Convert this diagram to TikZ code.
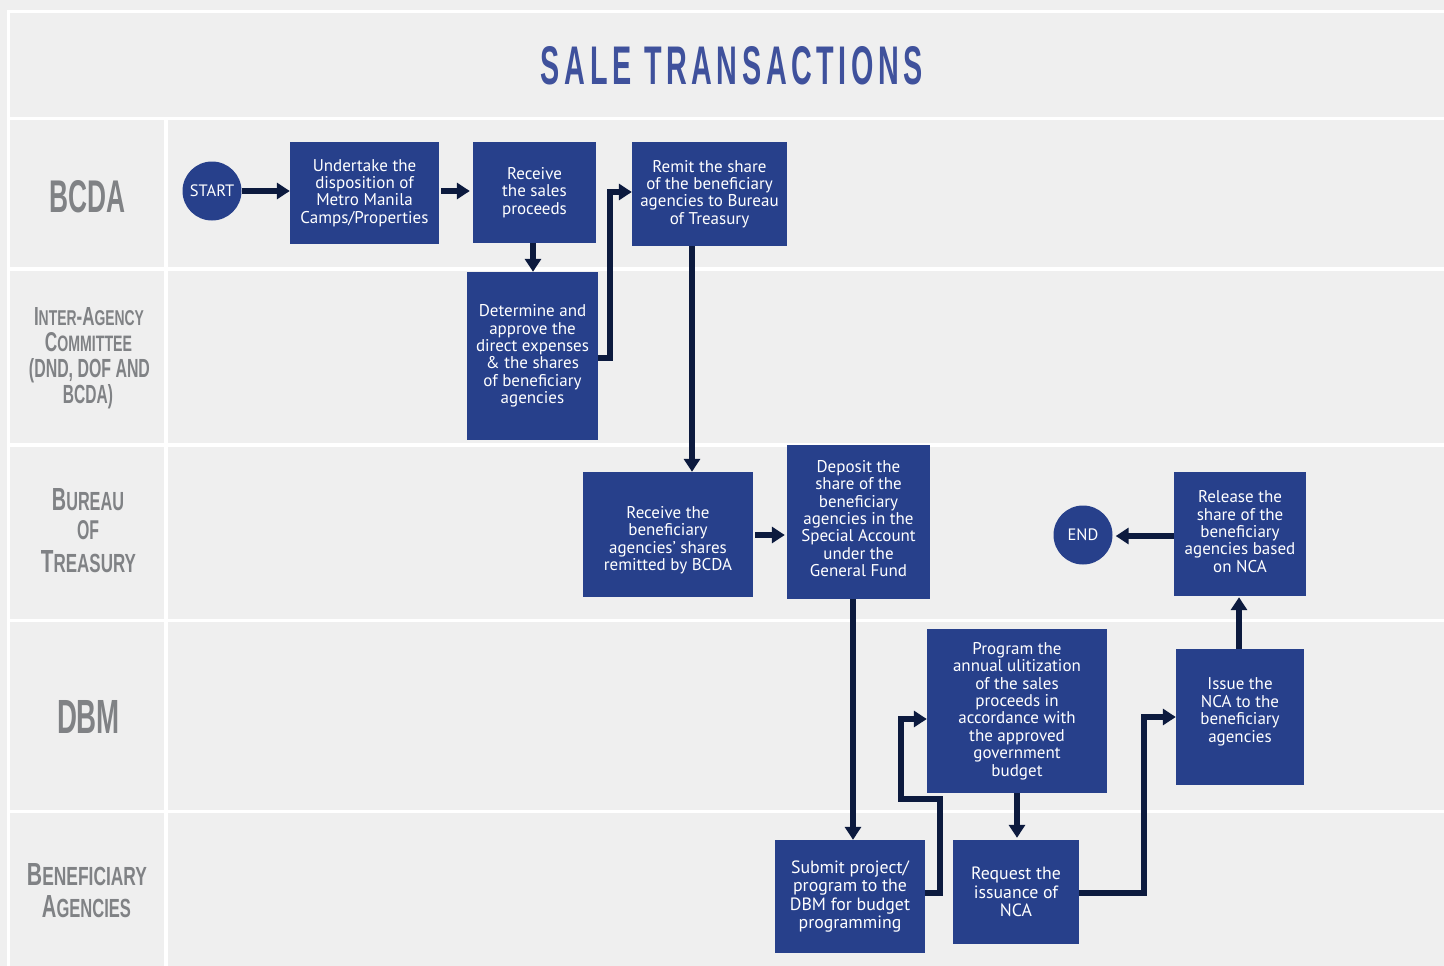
\documentclass[tikz,border=0pt]{standalone}
\usepackage{fontspec}
\setmainfont{PT Sans}
\newfontfamily\lblfont{Liberation Sans}
\usetikzlibrary{arrows.meta}

\definecolor{bg}{HTML}{EFEFEF}
\definecolor{boxblue}{HTML}{27408B}
\definecolor{navy}{HTML}{0C1A3E}
\definecolor{titleblue}{HTML}{3F519C}
\definecolor{lanegray}{HTML}{808285}

\newcommand{\lanetext}[3]{\raisebox{0pt}[#2pt][0pt]{\resizebox{#1pt}{#2pt}{\lblfont\bfseries #3}}}
\newcommand{\smc}[2]{#1\scalebox{0.82}{#2}}
\newcommand{\boxtext}{\fontsize{17}{17.4}\selectfont}
\newcommand{\boxtextb}{\fontsize{17.8}{18.6}\selectfont}
\newcommand{\termtext}{\fontsize{16.5}{18}\selectfont}
\newcommand{\shifted}[2]{\raisebox{#1pt}[\height][\depth]{\begin{tabular}{@{}c@{}}#2\end{tabular}}}

\tikzset{
  box/.style={fill=boxblue, text=white, inner sep=0pt, align=center, font=\boxtext},
  term/.style={circle, fill=boxblue, text=white, inner sep=0pt, minimum size=59pt, font=\termtext},
  arr/.style={draw=navy, line width=5.5pt, -{Triangle[length=13pt,width=16pt]}},
  lane/.style={inner sep=0pt, text=lanegray},
  sep/.style={draw=white, line width=3.5pt}
}

\begin{document}
\begin{tikzpicture}[x=1pt, y=-1pt]
\useasboundingbox (0,0) rectangle (1444,966);
\fill[bg] (0,0) rectangle (1444,966);

% grid lines
\draw[sep] (7,11.5) -- (1444,11.5);
\draw[sep] (8.5,10) -- (8.5,966);
\draw[sep] (7,118.5) -- (1444,118.5);
\draw[sep] (7,269) -- (1444,269);
\draw[sep] (7,445) -- (1444,445);
\draw[sep] (7,620.5) -- (1444,620.5);
\draw[sep] (7,811.5) -- (1444,811.5);
\draw[sep] (166,118) -- (166,966);

% title
\node[inner sep=0pt, text=titleblue] (title) at (732,66)
  {\resizebox{382pt}{38pt}{\lblfont\bfseries\addfontfeature{LetterSpace=16}SALE TRANSACTIONS}};

% lane labels
\node[lane] (l1) at (88,196) {\lanetext{76}{32}{BCDA}};
\node[lane] (l2a) at (89,316) {\lanetext{110}{18}{\smc{I}{NTER}-\smc{A}{GENCY}}};
\node[lane] (l2b) at (88.5,341.5) {\lanetext{87}{19}{\smc{C}{OMMITTEE}}};
\node[lane] (l2c) at (89.5,367.5) {\lanetext{121}{19}{(DND, DOF AND}};
\node[lane] (l2d) at (88,393.5) {\lanetext{50}{19}{BCDA)}};
\node[lane] (l3a) at (88,499) {\lanetext{72}{22}{\smc{B}{UREAU}}};
\node[lane] (l3b) at (88,530) {\lanetext{22}{19}{OF}};
\node[lane] (l3c) at (88.5,561) {\lanetext{95}{22}{\smc{T}{REASURY}}};
\node[lane] (l4) at (88.5,716.5) {\lanetext{63}{33}{DBM}};
\node[lane] (l5a) at (87,874) {\lanetext{120}{22}{\smc{B}{ENEFICIARY}}};
\node[lane] (l5b) at (86.5,906) {\lanetext{89}{22}{\smc{A}{GENCIES}}};

% terminals
\node[term] (start) at (212,191) {START};
\node[term] (end) at (1083,535) {END};

% process boxes
\node[box, minimum width=149pt, minimum height=102pt] (b1) at (364.5,193)
  {Undertake the\\disposition of\\Metro Manila\\Camps/Properties};
\node[box, minimum width=123pt, minimum height=101pt] (b2) at (534.5,192.5)
  {Receive\\the sales\\proceeds};
\node[box, minimum width=131pt, minimum height=168pt] (b3) at (532.5,356)
  {Determine and\\approve the\\direct expenses\\\& the shares\\of beneficiary\\agencies};
\node[box, minimum width=155pt, minimum height=104pt] (b4) at (709.5,194)
  {Remit the share\\of the beneficiary\\agencies to Bureau\\of Treasury};
\node[box, minimum width=170pt, minimum height=125pt] (b5) at (668,534.5)
  {\shifted{-6.5}{Receive the\\beneficiary\\agencies’ shares\\remitted by BCDA}};
\node[box, minimum width=143pt, minimum height=154pt] (b6) at (858.5,522)
  {\shifted{1}{Deposit the\\share of the\\beneficiary\\agencies in the\\Special Account\\under the\\General Fund}};
\node[box, font=\boxtextb, minimum width=150pt, minimum height=113pt] (b7) at (850,896.5)
  {Submit project/\\program to the\\DBM for budget\\programming};
\node[box, minimum width=180pt, minimum height=164pt] (b8) at (1017,711)
  {Program the\\annual ulitization\\of the sales\\proceeds in\\accordance with\\the approved\\government\\budget};
\node[box, font=\boxtextb, minimum width=126pt, minimum height=104pt] (b9) at (1016,892)
  {Request the\\issuance of\\NCA};
\node[box, minimum width=128pt, minimum height=136pt] (b10) at (1240,717)
  {\shifted{4.5}{Issue the\\NCA to the\\beneficiary\\agencies}};
\node[box, minimum width=132pt, minimum height=124pt] (b11) at (1240,534)
  {\shifted{0}{Release the\\share of the\\beneficiary\\agencies based\\on NCA}};

% connectors
\draw[arr] (start.east) -- (b1.west |- start.east);
\draw[arr, shorten <=2pt, shorten >=3pt] (b1.east |- 0,191) -- (b2.west |- 0,191);
\draw[arr] (b2.south -| 533,0) -- (b3.north -| 533,0);
\draw[arr] (b3.east |- 0,358) -- (610,358) -- (610,192) -- (b4.west |- 0,192);
\draw[arr] (b4.south -| 692,0) -- (b5.north -| 692,0);
\draw[arr, shorten <=2pt, shorten >=2pt] (b5.east |- 0,535) -- (b6.west |- 0,535);
\draw[arr] (b6.south -| 853,0) -- (b7.north -| 853,0);
\draw[arr] (b7.east |- 0,893) -- (940,893) -- (940,799) -- (901,799) -- (901,719) -- (b8.west |- 0,719);
\draw[arr, shorten >=2pt] (b8.south -| 1017,0) -- (b9.north -| 1017,0);
\draw[arr] (b9.east |- 0,893) -- (1144,893) -- (1144,717) -- (b10.west |- 0,717);
\draw[arr, shorten >=1pt] (b10.north -| 1239,0) -- (b11.south -| 1239,0);
\draw[arr, shorten >=3pt] (b11.west |- 0,536) -- (end.east |- 0,536);
\end{tikzpicture}
\end{document}
